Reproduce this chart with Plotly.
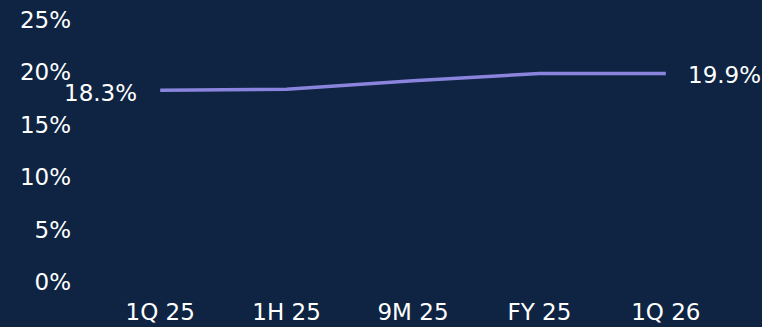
import plotly.graph_objects as go

categories = ["1Q 25", "1H 25", "9M 25", "FY 25", "1Q 26"]
values = [18.3, 18.4, 19.2, 19.9, 19.9]
y_ticks = [0, 5, 10, 15, 20, 25]
y_tick_labels = ["0%", "5%", "10%", "15%", "20%", "25%"]

BG = "#0e2442"
LINE = "#8a84de"
FONT = "DejaVu Sans"
FS = 23

fig = go.Figure(
    go.Scatter(
        x=categories,
        y=values,
        mode="lines",
        line=dict(color=LINE, width=3.5),
        cliponaxis=False,
        hoverinfo="skip",
    )
)

# end labels
fig.add_annotation(
    x=categories[0], y=values[0], text=f"{values[0]:.1f}%",
    showarrow=False, xanchor="right", yanchor="middle", xshift=-21, yshift=-3,
    font=dict(color="white", size=FS, family=FONT),
)
fig.add_annotation(
    x=categories[-1], y=values[-1], text=f"{values[-1]:.1f}%",
    showarrow=False, xanchor="left", yanchor="middle", xshift=20, yshift=-2,
    font=dict(color="white", size=FS, family=FONT),
)

fig.update_layout(
    width=762,
    height=327,
    margin=dict(l=97, r=33, t=20, b=45),
    paper_bgcolor=BG,
    plot_bgcolor=BG,
    showlegend=False,
    font=dict(family=FONT, color="white", size=FS),
)
fig.update_xaxes(
    type="category",
    range=[-0.5, 4.5],
    showgrid=False,
    zeroline=False,
    showline=False,
    ticks="",
    automargin=False,
    ticklabelstandoff=14,
    tickfont=dict(size=FS, color="white", family=FONT),
)
fig.update_yaxes(
    range=[0, 25],
    tickvals=y_ticks,
    ticktext=y_tick_labels,
    showgrid=False,
    zeroline=False,
    showline=False,
    ticks="",
    automargin=False,
    ticklabelstandoff=25,
    tickfont=dict(size=FS, color="white", family=FONT),
)

fig.write_html("out.html")
